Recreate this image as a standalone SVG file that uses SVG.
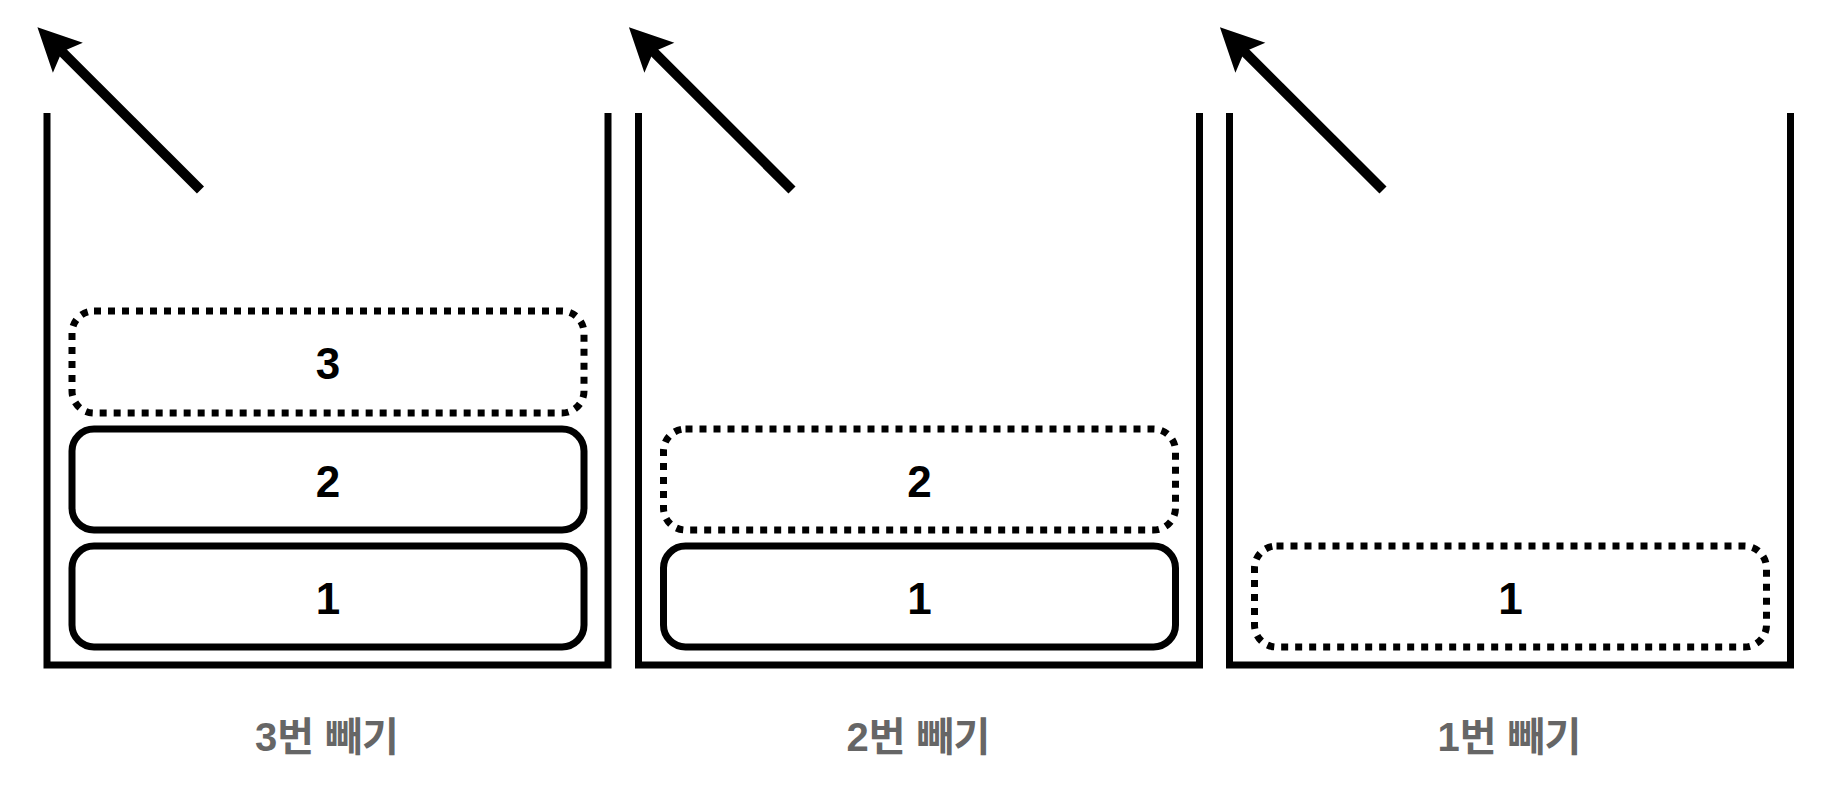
<svg xmlns="http://www.w3.org/2000/svg" width="1834" height="788" viewBox="0 0 1834 788">
  <style>
    .wall { fill: none; stroke: #000; stroke-width: 7; stroke-linejoin: miter; }
    .box { fill: #fff; stroke: #000; stroke-width: 7; }
    .dot { fill: #fff; stroke: #000; stroke-width: 7; stroke-dasharray: 7 7; }
    .num { font-family: "Liberation Sans", Arial, sans-serif; font-weight: bold; font-size: 44px; fill: #000; text-anchor: middle; }
    .lbl { font-family: "Liberation Sans", "Noto Sans CJK KR", sans-serif; font-weight: bold; font-size: 40px; fill: #666; text-anchor: middle; }
    .arrow { fill: none; stroke: #000; stroke-width: 10; marker-end: url(#head); }
  </style>
  <defs>
    <marker id="head" viewBox="0 0 44 44" markerWidth="44" markerHeight="44" refX="10" refY="22" orient="auto" markerUnits="userSpaceOnUse">
      <path d="M44,22 L1,0.8 L9.5,22 L1,43.2 Z" fill="#000"/>
    </marker>
  </defs>
  <rect width="1834" height="788" fill="#fff"/>

  <g id="stack-pop3" transform="translate(47,0)">
    <path class="wall" d="M0,113 V665 H561 V113"/>
    <g id="s1-item1"><rect class="box" x="25" y="546" width="512" height="101" rx="22"/><text class="num" x="281" y="614">1</text></g>
    <g id="s1-item2"><rect class="box" x="25" y="429" width="512" height="101" rx="22"/><text class="num" x="281" y="497">2</text></g>
    <g id="s1-item3"><rect class="dot" x="25" y="311" width="512" height="102" rx="22"/><text class="num" x="281" y="379">3</text></g>
    <text id="s1-label" class="lbl" x="280" y="751">3번 빼기</text>
  </g>

  <g id="stack-pop2" transform="translate(638.5,0)">
    <path class="wall" d="M0,113 V665 H561 V113"/>
    <g id="s2-item1"><rect class="box" x="25" y="546" width="512" height="101" rx="22"/><text class="num" x="281" y="614">1</text></g>
    <g id="s2-item2"><rect class="dot" x="25" y="429" width="512" height="101" rx="22"/><text class="num" x="281" y="497">2</text></g>
    <text id="s2-label" class="lbl" x="280" y="751">2번 빼기</text>
  </g>

  <g id="stack-pop1" transform="translate(1229.5,0)">
    <path class="wall" d="M0,113 V665 H561 V113"/>
    <g id="s3-item1"><rect class="dot" x="25" y="546" width="512" height="101" rx="22"/><text class="num" x="281" y="614">1</text></g>
    <text id="s3-label" class="lbl" x="280" y="751">1번 빼기</text>
  </g>

  <g id="connectors">
    <path class="arrow" d="M200.5,190 L61.5,51.3"/>
    <path class="arrow" d="M792,190 L653,51.3"/>
    <path class="arrow" d="M1383,190 L1244,51.3"/>
  </g>
</svg>
